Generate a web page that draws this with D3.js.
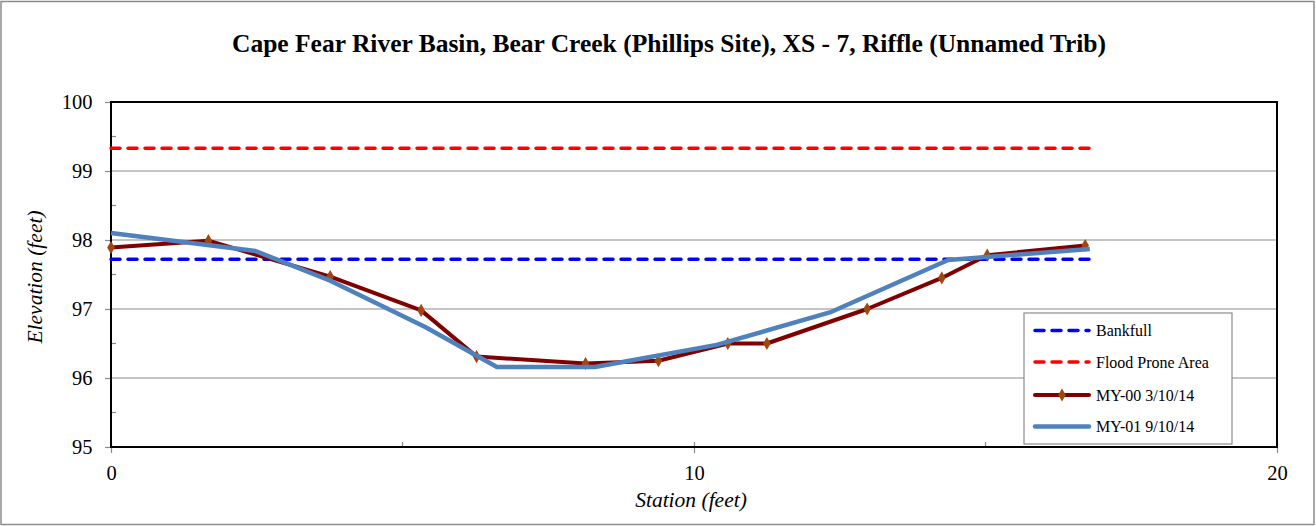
<!DOCTYPE html>
<html>
<head>
<meta charset="utf-8">
<script src="https://cdn.jsdelivr.net/npm/d3@7"></script>
<style>
  html, body { margin: 0; padding: 0; background: #fff; }
  svg { display: block; font-family: "Liberation Serif", "Times New Roman", serif; }
</style>
</head>
<body>
<svg id="chart" width="1316" height="526"></svg>
<script>
// ---- Data ----
const title = "Cape Fear River Basin, Bear Creek (Phillips Site), XS - 7, Riffle (Unnamed Trib)";
const xLabel = "Station (feet)";
const yLabel = "Elevation (feet)";
const xTicks = [0, 10, 20];
const xMinorTicks = [5, 15];
const yTicks = [95, 96, 97, 98, 99, 100];
const yMinorTicks = [95.5, 96.5, 97.5, 98.5, 99.5];

const my00Station = [0, 1.67, 3.76, 5.32, 6.27, 8.14, 9.39, 10.58, 11.25, 12.97, 14.25, 15.03, 16.71];
const my00Elev    = [97.89, 97.99, 97.47, 96.98, 96.31, 96.21, 96.25, 96.50, 96.50, 97.00, 97.45, 97.78, 97.92];

const my01Station = [0, 2.48, 3.76, 5.39, 6.62, 8.30, 10.39, 12.33, 14.36, 16.79];
const my01Elev    = [98.10, 97.84, 97.41, 96.74, 96.16, 96.16, 96.48, 96.95, 97.71, 97.87];

const bankfullStation = [0, 16.79];
const bankfullElev = [97.72, 97.72];
const floodStation = [0, 16.79];
const floodElev = [99.33, 99.33];

const legendLabels = ["Bankfull", "Flood Prone Area", "MY-00 3/10/14", "MY-01 9/10/14"];

// ---- Layout ----
const svg = d3.select("#chart");
const W = 1316, H = 526;
const plot = { left: 111, right: 1277, top: 102, bottom: 447 };
const FONT = "'Liberation Serif', 'Times New Roman', serif";

svg.append("rect").attr("x", 1).attr("y", 1.5).attr("width", W - 3).attr("height", H - 3)
  .attr("fill", "#fff").attr("stroke", "#8c8c8c").attr("stroke-width", 1.5);

const x = d3.scaleLinear().domain([0, 20]).range([plot.left, plot.right]);
const y = d3.scaleLinear().domain([95, 100]).range([plot.bottom, plot.top]);

// gridlines
svg.append("g").selectAll("line").data(yTicks.filter(d => d > 95 && d < 100)).join("line")
  .attr("x1", plot.left).attr("x2", plot.right)
  .attr("y1", d => y(d)).attr("y2", d => y(d))
  .attr("stroke", "#8a8a8a").attr("stroke-width", 1.2);

// Y axis
const yAxis = d3.axisLeft(y).tickValues(yTicks).tickSize(6).tickFormat(d3.format("d"));
const gy = svg.append("g").attr("transform", `translate(${plot.left},0)`).call(yAxis);
gy.attr("font-family", FONT);
gy.select(".domain").remove();
gy.selectAll(".tick line").attr("stroke", "#8a8a8a").attr("stroke-width", 1.2);
gy.selectAll(".tick text").attr("font-size", 20.5).attr("fill", "#000").attr("x", -18.5)
  .attr("dy", "0.34em");
svg.append("g").selectAll("line").data(yMinorTicks).join("line")
  .attr("x1", plot.left).attr("x2", plot.left + 5)
  .attr("y1", d => y(d)).attr("y2", d => y(d))
  .attr("stroke", "#8a8a8a").attr("stroke-width", 1.2);

// X axis
const xAxis = d3.axisBottom(x).tickValues(xTicks).tickSize(6).tickFormat(d3.format("d"));
const gx = svg.append("g").attr("transform", `translate(0,${plot.bottom})`).call(xAxis);
gx.attr("font-family", FONT);
gx.select(".domain").remove();
gx.selectAll(".tick line").attr("stroke", "#8a8a8a").attr("stroke-width", 1.2).attr("y1", -5);
gx.selectAll(".tick text").attr("font-size", 20.5).attr("fill", "#000").attr("y", 33).attr("dy", 0);
svg.append("g").selectAll("line").data(xMinorTicks).join("line")
  .attr("x1", d => x(d)).attr("x2", d => x(d))
  .attr("y1", plot.bottom - 5).attr("y2", plot.bottom)
  .attr("stroke", "#8a8a8a").attr("stroke-width", 1.2);

// plot frame
svg.append("rect").attr("x", plot.left).attr("y", plot.top)
  .attr("width", plot.right - plot.left).attr("height", plot.bottom - plot.top)
  .attr("fill", "none").attr("stroke", "#000").attr("stroke-width", 2);

// Series
const line = d3.line().x(d => x(d[0])).y(d => y(d[1]));
const zip = (a, b) => a.map((v, i) => [v, b[i]]);

svg.append("path").datum(zip(bankfullStation, bankfullElev)).attr("d", line)
  .attr("fill", "none").attr("stroke", "#0000ff").attr("stroke-width", 3.5)
  .attr("stroke-dasharray", "9,8").attr("stroke-linecap", "round");
svg.append("path").datum(zip(floodStation, floodElev)).attr("d", line)
  .attr("fill", "none").attr("stroke", "#ff0000").attr("stroke-width", 3.5)
  .attr("stroke-dasharray", "9,8").attr("stroke-linecap", "round");

const my00 = zip(my00Station, my00Elev);
svg.append("path").datum(my00).attr("d", line)
  .attr("fill", "none").attr("stroke", "#800000").attr("stroke-width", 4)
  .attr("stroke-linejoin", "round");
const diamond = d3.symbol().type(d3.symbolDiamond).size(50);
svg.append("g").selectAll("path").data(my00).join("path")
  .attr("d", diamond)
  .attr("transform", d => `translate(${x(d[0])},${y(d[1])})`)
  .attr("fill", "#a0460f");

svg.append("path").datum(zip(my01Station, my01Elev)).attr("d", line)
  .attr("fill", "none").attr("stroke", "#4f81bd").attr("stroke-width", 4.5)
  .attr("stroke-linejoin", "round");

// Titles
svg.append("text").attr("x", 669).attr("y", 52).attr("text-anchor", "middle")
  .attr("font-size", 25.5).attr("font-weight", "bold").text(title);
svg.append("text").attr("x", 691).attr("y", 507).attr("text-anchor", "middle")
  .attr("font-size", 21.5).attr("font-style", "italic").text(xLabel);
svg.append("text").attr("transform", "translate(42,277) rotate(-90)").attr("text-anchor", "middle")
  .attr("font-size", 21.5).attr("font-style", "italic").text(yLabel);

// Legend
const lg = svg.append("g");
lg.append("rect").attr("x", 1024).attr("y", 313).attr("width", 208).attr("height", 131)
  .attr("fill", "#fff").attr("stroke", "#8c8c8c").attr("stroke-width", 1.2);
const legendY = [330.5, 362, 395, 426.5];
const styles = [
  { stroke: "#0000ff", w: 3.5, dash: "9,8", marker: false },
  { stroke: "#ff0000", w: 3.5, dash: "9,8", marker: false },
  { stroke: "#800000", w: 4, dash: null, marker: true },
  { stroke: "#4f81bd", w: 4.5, dash: null, marker: false }
];
legendLabels.forEach((lab, i) => {
  const s = styles[i];
  const l = lg.append("line").attr("x1", 1035).attr("x2", 1089)
    .attr("y1", legendY[i]).attr("y2", legendY[i])
    .attr("stroke", s.stroke).attr("stroke-width", s.w).attr("stroke-linecap", "round");
  if (s.dash) l.attr("stroke-dasharray", s.dash);
  if (s.marker) lg.append("path").attr("d", diamond)
    .attr("transform", `translate(1062,${legendY[i]})`).attr("fill", "#a0460f");
  lg.append("text").attr("x", 1096).attr("y", legendY[i] + 5.5)
    .attr("font-size", 16).text(lab);
});
</script>
</body>
</html>
